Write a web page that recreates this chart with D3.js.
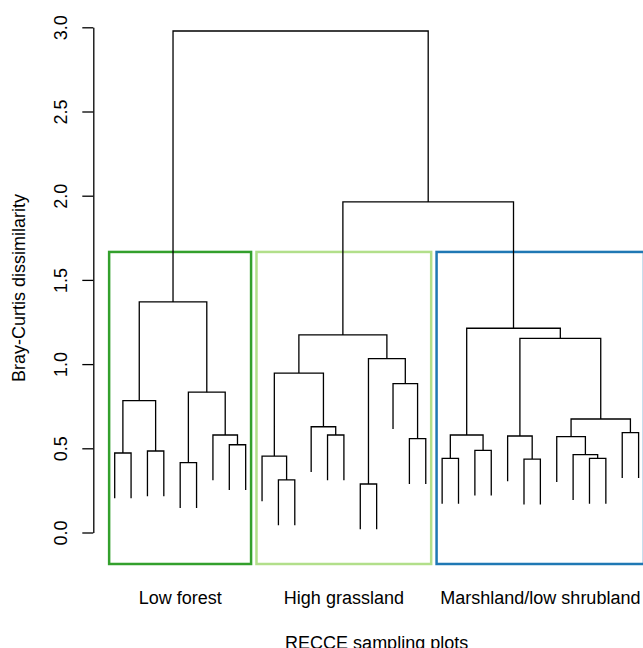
<!DOCTYPE html>
<html>
<head>
<meta charset="utf-8">
<script src="https://cdn.jsdelivr.net/npm/d3@7"></script>
<style>
  body { margin: 0; background: #fff; }
  svg { display: block; font-family: "Liberation Sans", Arial, sans-serif; }
</style>
</head>
<body>
<svg id="chart"></svg>
<script>
var WIDTH = 643;
var HEIGHT = 648;

// hclust-style merge table: negative = leaf (in plotted order), positive = earlier merge row
var merges = [
  [-16, -17], [-11, -12], [-5, -6], [-26, -27], [-21, -22], [-30, -31],
  [-10, 2], [-29, 6], [-1, -2], [-3, -4], [-23, -24], [-8, -9],
  [-19, -20], [-28, 8], [-25, 4], [-14, -15], [-7, 12], [5, 11],
  [-32, -33], [-13, 16], [14, 19], [9, 10], [3, 17], [-18, 13],
  [7, 20], [1, 24], [15, 21], [25, 26], [18, 27], [22, 23],
  [28, 29], [30, 31]
];
var heights = [
  0.288, 0.312, 0.415, 0.436, 0.440, 0.440,
  0.454, 0.462, 0.472, 0.484, 0.488, 0.521,
  0.557, 0.569, 0.573, 0.579, 0.579, 0.579,
  0.593, 0.628, 0.674, 0.783, 0.833, 0.884,
  0.947, 1.032, 1.153, 1.173, 1.213, 1.369,
  1.963, 2.978
];
var nLeaves = 33;

// three groups cut from the tree
var groupNames = ['Low forest', 'High grassland', 'Marshland/low shrubland'];
var groupSizes = [9, 11, 13];
var groupColors = ['#33a02c', '#b2df8a', '#1f78b4'];

var yTicks = [0, 0.5, 1, 1.5, 2, 2.5, 3];

var svg = d3.select('#chart')
  .attr('width', WIDTH)
  .attr('height', HEIGHT);

var xScale = d3.scaleLinear().domain([1, nLeaves]).range([114.7, 638.6]);
var yScale = d3.scaleLinear().domain([0, 3]).range([532.5, 27.3]);

var hang = 0.1 * (d3.max(heights) - d3.min(heights));

// turn merge table into nested nodes
var build = function(id) {
  if (id < 0) return { leaf: -id };
  var m = merges[id - 1];
  return { height: heights[id - 1], children: [build(m[0]), build(m[1])] };
};
var root = d3.hierarchy(build(merges.length));

root.eachAfter(function(d) {
  if (d.children) {
    d.x = d3.mean(d.children, function(c) { return c.x; });
    d.h = d.data.height;
  } else {
    d.x = xScale(d.data.leaf);
  }
});
root.each(function(d) {
  if (!d.children) d.h = d.parent.data.height - hang;
});

// group boxes (like rect.hclust)
var sorted = heights.slice().sort(function(a, b) { return b - a; });
var boxTop = (sorted[1] + sorted[2]) / 2;
var boxBottom = -0.187;
var cum = [0].concat(Array.from(d3.cumsum(groupSizes)));

svg.append('g').selectAll('rect')
  .data(groupSizes)
  .enter()
  .append('rect')
  .attr('x', function(d, i) { return xScale(cum[i] + 0.66); })
  .attr('y', yScale(boxTop))
  .attr('width', function(d, i) { return xScale(cum[i + 1] + 0.33) - xScale(cum[i] + 0.66); })
  .attr('height', yScale(boxBottom) - yScale(boxTop))
  .attr('fill', 'none')
  .attr('stroke', function(d, i) { return groupColors[i]; })
  .attr('stroke-width', 2.5);

// dendrogram links
svg.append('g').selectAll('path')
  .data(root.descendants().filter(function(d) { return d.children; }))
  .enter()
  .append('path')
  .attr('d', function(d) {
    var a = d.children[0], b = d.children[1];
    return 'M' + a.x + ',' + yScale(a.h) +
      'V' + yScale(d.h) +
      'H' + b.x +
      'V' + yScale(b.h);
  })
  .attr('fill', 'none')
  .attr('stroke', '#000')
  .attr('stroke-width', 1.3);

// y axis
var leftAxis = d3.axisLeft(yScale)
  .tickValues(yTicks)
  .tickFormat(d3.format('.1f'))
  .tickSize(11)
  .tickSizeOuter(0);

var yAxisG = svg.append('g')
  .attr('transform', 'translate(93.3,0)')
  .call(leftAxis);
yAxisG.select('.domain').attr('stroke', '#000').attr('stroke-width', 1.3);
yAxisG.selectAll('.tick line').attr('stroke', '#000').attr('stroke-width', 1.3);
yAxisG.selectAll('.tick text')
  .attr('x', null)
  .attr('dy', null)
  .attr('transform', 'translate(-26,0) rotate(-90)')
  .attr('text-anchor', 'middle')
  .attr('font-size', 18)
  .attr('font-family', '"Liberation Sans", Arial, sans-serif')
  .attr('fill', '#000');

svg.append('text')
  .attr('transform', 'translate(25,288) rotate(-90)')
  .attr('text-anchor', 'middle')
  .attr('font-size', 18)
  .text('Bray-Curtis dissimilarity');

// group labels
svg.append('g').selectAll('text')
  .data(groupNames)
  .enter()
  .append('text')
  .attr('x', function(d, i) { return xScale((cum[i] + 1 + cum[i + 1]) / 2); })
  .attr('y', 604)
  .attr('text-anchor', 'middle')
  .attr('font-size', 18)
  .text(function(d) { return d; });

svg.append('text')
  .attr('x', xScale((1 + nLeaves) / 2))
  .attr('y', 649)
  .attr('text-anchor', 'middle')
  .attr('font-size', 18)
  .text('RECCE sampling plots');
</script>
</body>
</html>
